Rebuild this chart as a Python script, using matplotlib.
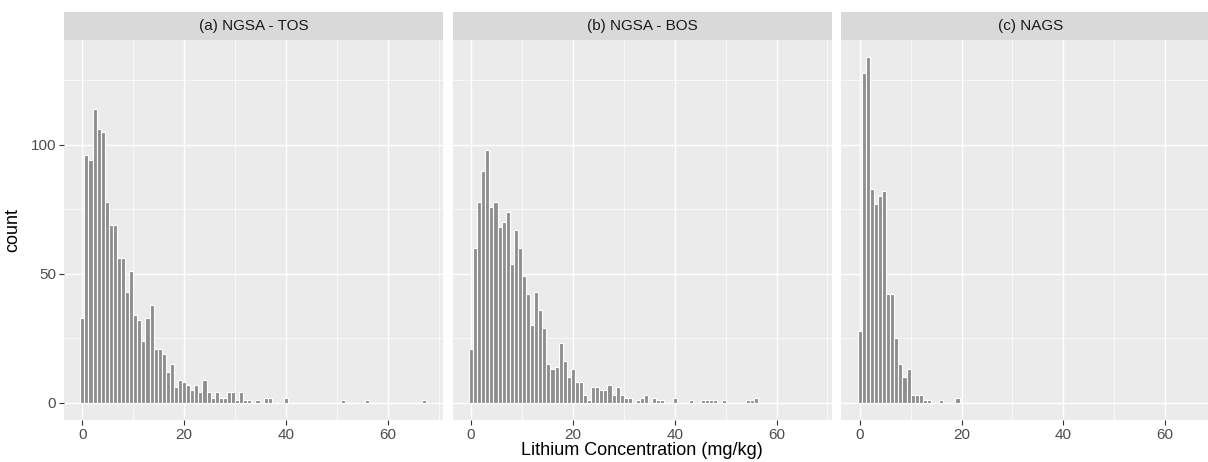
import numpy as np
import matplotlib
matplotlib.use("Agg")
import matplotlib.pyplot as plt
from matplotlib.patches import Rectangle

plt.rcParams['font.family'] = ['Liberation Sans', 'DejaVu Sans']

# histogram counts per bin (bin width 0.8 mg/kg, first bin centred on 0)
bin_width = 0.8
n_bins = 85

tos_counts = {0: 33, 1: 96, 2: 94, 3: 114, 4: 106, 5: 105, 6: 78, 7: 69, 8: 69,
              9: 56, 10: 56, 11: 43, 12: 51, 13: 34, 14: 32, 15: 24, 16: 33,
              17: 38, 18: 21, 19: 21, 20: 19, 21: 12, 22: 15, 23: 6, 24: 9,
              25: 8, 26: 7, 27: 5, 28: 7, 29: 4, 30: 9, 31: 4, 32: 2, 33: 4,
              34: 2, 35: 2, 36: 4, 37: 4, 38: 1, 39: 4, 40: 1, 41: 1, 43: 1,
              45: 2, 46: 2, 50: 2, 64: 1, 70: 1, 84: 1}

bos_counts = {0: 21, 1: 60, 2: 78, 3: 90, 4: 98, 5: 76, 6: 78, 7: 68, 8: 70,
              9: 74, 10: 54, 11: 67, 12: 60, 13: 49, 14: 42, 15: 30, 16: 43,
              17: 36, 18: 29, 19: 15, 20: 13, 21: 14, 22: 23, 23: 16, 24: 10,
              25: 13, 26: 8, 27: 8, 28: 3, 29: 1, 30: 6, 31: 6, 32: 5, 33: 5,
              34: 7, 35: 3, 36: 6, 37: 3, 38: 2, 39: 2, 41: 1, 42: 2, 43: 3,
              45: 2, 46: 1, 47: 1, 50: 2, 54: 1, 57: 1, 58: 1, 59: 1, 60: 1,
              62: 1, 68: 1, 69: 1, 70: 2}

nags_counts = {0: 28, 1: 128, 2: 134, 3: 83, 4: 77, 5: 80, 6: 82, 7: 42, 8: 42,
               9: 25, 10: 15, 11: 10, 12: 13, 13: 3, 14: 3, 15: 3, 16: 1,
               17: 1, 20: 1, 24: 2}

panel_titles = ["(a) NGSA - TOS", "(b) NGSA - BOS", "(c) NAGS"]
panel_data = [tos_counts, bos_counts, nags_counts]

W, H = 1208, 462
fig = plt.figure(figsize=(W / 100, H / 100), dpi=100)

# panel geometry in pixels (third panel runs past the right edge, as in the crop)
left0 = 64
pw = 379.3
gap = 9.4
top, bottom = 40, 420
strip_h = 27.7

centers = np.arange(n_bins) * bin_width

for k, (title, counts) in enumerate(zip(panel_titles, panel_data)):
    x0 = left0 + k * (pw + gap)
    ax = fig.add_axes([x0 / W, (H - bottom) / H, pw / W, (bottom - top) / H])
    ax.set_facecolor('#EBEBEB')
    vals = np.zeros(n_bins)
    for i, c in counts.items():
        vals[i] = c
    ax.bar(centers, vals, width=bin_width, color='#8F8F8F',
           edgecolor='white', linewidth=0.8, zorder=3)

    ax.set_xlim(-3.6, 70.9)
    ax.set_ylim(-6.7, 140.7)
    ax.set_xticks([0, 20, 40, 60])
    ax.set_xticks([10, 30, 50, 70], minor=True)
    ax.set_yticks([0, 50, 100])
    ax.set_yticks([25, 75, 125], minor=True)
    ax.grid(which='major', color='white', linewidth=1.0, zorder=0)
    ax.grid(which='minor', color='white', linewidth=0.5, zorder=0)
    ax.set_axisbelow(True)
    for s in ax.spines.values():
        s.set_visible(False)
    ax.tick_params(which='minor', length=0)
    ax.tick_params(which='major', length=3.5, width=0.8, color='#333333',
                   labelcolor='#4D4D4D', labelsize=11, pad=2)
    if k > 0:
        ax.tick_params(axis='y', which='major', length=0, labelleft=False)

    # facet strip
    ax.add_patch(Rectangle((0, 1), 1, strip_h / (bottom - top),
                           transform=ax.transAxes, facecolor='#D9D9D9',
                           edgecolor='none', clip_on=False))
    ax.text(0.5, 1 + strip_h / 2 / (bottom - top), title, transform=ax.transAxes,
            ha='center', va='center', fontsize=11, color='#1A1A1A')

    if k == 0:
        ax.set_ylabel('count', fontsize=13, color='black', labelpad=7)

fig.text((left0 + (3 * pw + 2 * gap) / 2) / W, 3 / H, 'Lithium Concentration (mg/kg)',
         ha='center', va='bottom', fontsize=13, color='black')

fig.savefig('out.png', dpi=100)
